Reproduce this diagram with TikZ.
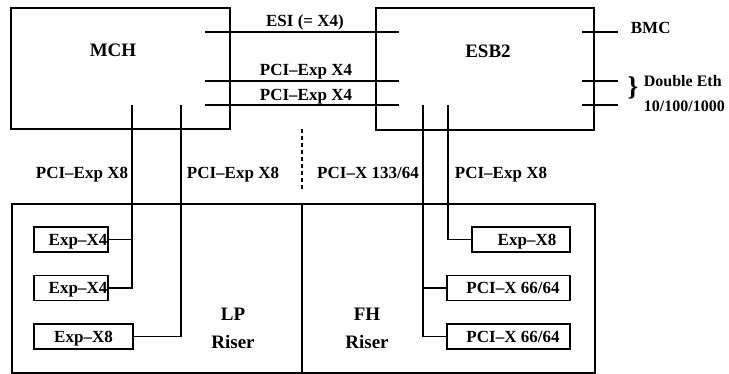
\documentclass[tikz,border=0pt]{standalone}
\usepackage{fontspec}
\setmainfont{Liberation Serif}
\begin{document}
\begin{tikzpicture}[x=1pt,y=-1pt,line width=1.8pt,
  chip/.style={draw,rectangle,anchor=north west,inner sep=0pt},
  big/.style={font=\bfseries\fontsize{19}{22}\selectfont,inner sep=0pt,text height=12.6pt,text depth=0pt},
  lbl/.style={font=\bfseries\fontsize{17}{20}\selectfont,inner sep=0pt,text height=11.3pt,text depth=0pt},
  eth/.style={font=\bfseries\fontsize{16}{18}\selectfont,inner sep=0pt,text height=10.6pt,text depth=0pt},
  slot/.style={draw,rectangle,line width=1.4pt,inner sep=0pt,minimum height=25pt,
     font=\bfseries\fontsize{17}{20}\selectfont,text height=11.3pt,text depth=0pt},
  dashline/.style={line width=1.2pt,dash pattern=on 4pt off 3pt}]
\useasboundingbox (0,0) rectangle (729,373);
% main boxes
\node[chip,minimum width=219pt,minimum height=121pt] (mch) at (10,7) {};
\node[chip,minimum width=218pt,minimum height=122pt] (esb) at (375,7) {};
\node[chip,minimum width=583pt,minimum height=169pt] (riser) at (11,203) {};
\node[big] (mchT) at (113,50) {MCH};
\node[big] (esbT) at (488,51) {ESB2};
% riser divider
\coordinate (divT) at (302,203);
\coordinate (divB) at (302,372);
\draw[line width=1.3pt] (divT) -- (divB);
\node[big] (lp) at (233,314) {LP};
\node[big] (lpr) at (233,342) {Riser};
\node[big] (fh) at (367,314) {FH};
\node[big] (fhr) at (367,342) {Riser};
% MCH - ESB2 links
\coordinate (esiA) at (205,32); \coordinate (esiB) at (399,32);
\coordinate (peA) at (205,81); \coordinate (peB) at (399,81);
\coordinate (pfA) at (205,105); \coordinate (pfB) at (399,105);
\draw (esiA) -- (esiB);
\draw (peA) -- (peB);
\draw (pfA) -- (pfB);
\node[lbl] (esiL) at (305,21) {ESI (= X4)};
\node[lbl] (peL) at (306,70) {PCI–Exp X4};
\node[lbl] (pfL) at (306,94.5) {PCI–Exp X4};
% ESB2 right side
\coordinate (bmcA) at (582,32); \coordinate (bmcB) at (618,32);
\coordinate (e1A) at (582,81); \coordinate (e1B) at (618,81);
\coordinate (e2A) at (582,105); \coordinate (e2B) at (618,105);
\draw[line width=1.3pt] (bmcA) -- (bmcB);
\draw[line width=1.3pt] (e1A) -- (e1B);
\draw[line width=1.3pt] (e2A) -- (e2B);
\node[lbl,anchor=west] (bmcL) at (630,28) {BMC};
\node[font=\bfseries\fontsize{27}{30}\selectfont,inner sep=0pt] (brace) at (633,88) {\}};
\node[eth,anchor=west] (ethL) at (643,81.5) {Double Eth};
\node[eth,anchor=west] (ethN) at (643,106.5) {10/100/1000};
% dashed separator
\coordinate (dT) at (302,129); \coordinate (dB) at (302,190);
\draw[dashline] (dT) -- (dB);
% bus labels
\node[lbl] (b1) at (82,172.5) {PCI–Exp X8};
\node[lbl] (b2) at (233,172.5) {PCI–Exp X8};
\node[lbl] (b3) at (368,172.5) {PCI–X 133/64};
\node[lbl] (b4) at (501,172.5) {PCI–Exp X8};
% slots
\node[slot,minimum width=74pt] (s1) at (71,239.5) {\hspace*{14pt}Exp–X4};
\node[slot,minimum width=74pt] (s2) at (71,288) {\hspace*{14pt}Exp–X4};
\node[slot,minimum width=99pt] (s3) at (83.5,336.5) {Exp–X8};
\node[slot,minimum width=98pt] (r1) at (521,239.5) {\hspace*{12pt}Exp–X8};
\node[slot,minimum width=123pt] (r2) at (508.5,288) {\hspace*{9pt}PCI–X 66/64};
\node[slot,minimum width=123pt] (r3) at (508.5,336.5) {\hspace*{9pt}PCI–X 66/64};
% bus lines
\coordinate (mA) at (132,105); \coordinate (mB) at (181,105);
\coordinate (eA) at (423,105); \coordinate (eB) at (448,105);
\draw (mA) |- (s2.east);
\draw (s1.east) -- (s1.east -| mA);
\draw (mB) |- (s3.east);
\draw (eB) |- (r1.west);
\draw (eA) |- (r3.west);
\draw (r2.west) -- (r2.west -| eA);
\end{tikzpicture}
\end{document}
